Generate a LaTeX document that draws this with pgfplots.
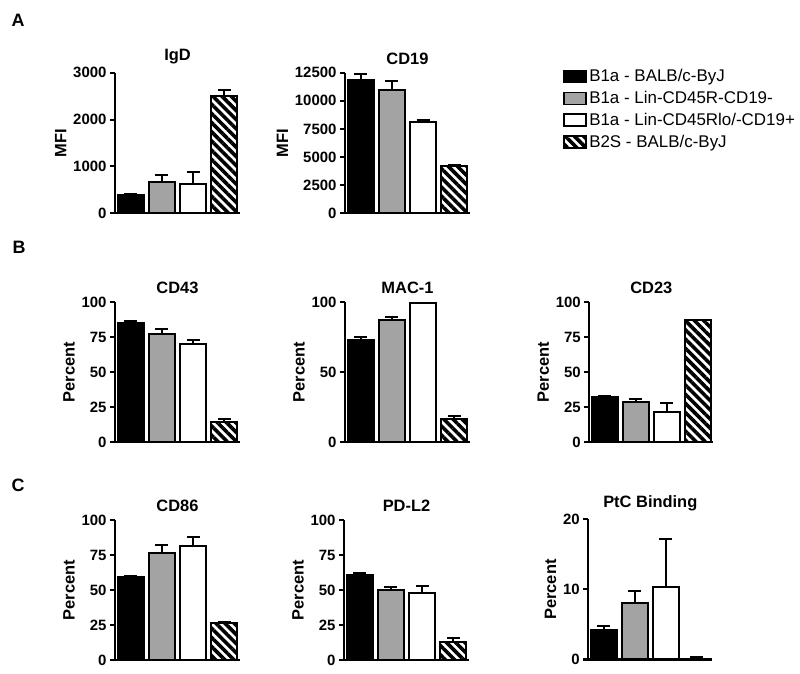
\documentclass[border=0pt]{standalone}
\usepackage{pgfplots}
\pgfplotsset{compat=1.18}
\usepackage{fontspec}
\setmainfont{Liberation Sans}
\usetikzlibrary{patterns.meta}
\definecolor{barGray}{RGB}{163,163,163}
\pgfplotsset{
  panel/.style={
    scale only axis, width=125bp, height=140bp,
    axis x line=bottom, axis y line=left,
    axis line style={-, line width=2bp},
    xmin=-0.5, xmax=3.5, xtick=\empty, ymin=0,
    tick align=outside, major tick length=5bp,
    ytick style={line width=2bp, black},
    tick label style={font=\bfseries\fontsize{15}{16}\selectfont},
    /pgf/number format/assume math mode=true,
    /pgf/number format/1000 sep={},
    scaled y ticks=false,
    title style={font=\bfseries\fontsize{16.5}{17}\selectfont, yshift=-1bp},
    ylabel style={font=\bfseries\fontsize{16.5}{17}\selectfont},
    clip=false,
    every axis plot/.append style={
      ybar, bar width=26bp, bar shift=0pt, line width=2bp, draw=black,
      /pgfplots/error bars/y dir=plus, /pgfplots/error bars/y explicit,
      /pgfplots/error bars/error bar style={line width=2bp, black},
      /pgfplots/error bars/error mark options={rotate=90, mark size=6.5bp, line width=2bp, black}},
  },
  s1/.style={fill=black, draw=black},
  s2/.style={fill=barGray, draw=black},
  s3/.style={fill=white, draw=black},
  s4/.style={draw=black, pattern={Lines[angle=-45,distance=6.5bp,line width=3.6bp]}, pattern color=black},
}
\begin{document}
\begin{tikzpicture}
\path[use as bounding box] (0,0) rectangle (800bp,674bp);
\node[font=\bfseries\fontsize{18}{18}\selectfont] at (18bp,654bp) {A};
\node[font=\bfseries\fontsize{18}{18}\selectfont] at (19bp,427bp) {B};
\node[font=\bfseries\fontsize{18}{18}\selectfont] at (18bp,189bp) {C};

% IgD
\begin{axis}[panel, at={(115bp,460.7bp)}, anchor=south west, width=125bp, height=140.6bp,
  ymax=3000, ytick={0,1000,2000,3000}, title={IgD}, ylabel={MFI}]
\addplot[s1] coordinates {(0,380) +- (0,25)};
\addplot[s2] coordinates {(1,675) +- (0,150)};
\addplot[s3] coordinates {(2,618) +- (0,256)};
\addplot[s4] coordinates {(3,2509) +- (0,120)};
\end{axis}

% CD19
\begin{axis}[panel, at={(345bp,460.7bp)}, anchor=south west, width=125bp, height=140.6bp,
  ymax=12500, ytick={0,2500,5000,7500,10000,12500}, title={CD19}, ylabel={MFI},
  legend style={at={(1.72,1.055)}, anchor=north west, draw=none, fill=none,
    font=\fontsize{17}{17.5}\selectfont, row sep=3bp,
    nodes={inner sep=2.5bp}},
  legend cell align=left,
  legend image code/.code={\draw[#1, line width=1.6bp] (0bp,-6bp) rectangle (22bp,6bp);}]
\addplot[s1] coordinates {(0,11848) +- (0,530)};
\addplot[s2] coordinates {(1,10960) +- (0,800)};
\addplot[s3] coordinates {(2,8087) +- (0,200)};
\addplot[s4] coordinates {(3,4206) +- (0,120)};
\legend{B1a - BALB/c-ByJ, B1a - Lin-CD45R-CD19-, B1a - Lin-CD45Rlo/-CD19+, B2S - BALB/c-ByJ}
\end{axis}

% CD43
\begin{axis}[panel, at={(115bp,232bp)}, anchor=south west,
  ymax=100, ytick={0,25,50,75,100}, title={CD43}, ylabel={Percent}]
\addplot[s1] coordinates {(0,85.2) +- (0,1.2)};
\addplot[s2] coordinates {(1,77.4) +- (0,3.6)};
\addplot[s3] coordinates {(2,70.2) +- (0,2.7)};
\addplot[s4] coordinates {(3,14.0) +- (0,2.7)};
\end{axis}

% MAC-1
\begin{axis}[panel, at={(345bp,232bp)}, anchor=south west,
  ymax=100, ytick={0,50,100}, title={MAC-1}, ylabel={Percent}]
\addplot[s1] coordinates {(0,72.6) +- (0,2.2)};
\addplot[s2] coordinates {(1,86.9) +- (0,2.1)};
\addplot[s3] coordinates {(2,99.5) +- (0,0)};
\addplot[s4] coordinates {(3,16.7) +- (0,1.6)};
\end{axis}

% CD23
\begin{axis}[panel, at={(589.3bp,232bp)}, anchor=south west, width=124bp,
  ymax=100, ytick={0,25,50,75,100}, title={CD23}, ylabel={Percent}]
\addplot[s1] coordinates {(0,31.9) +- (0,1.2)};
\addplot[s2] coordinates {(1,28.6) +- (0,2.4)};
\addplot[s3] coordinates {(2,21.4) +- (0,6.2)};
\addplot[s4] coordinates {(3,86.9) +- (0,0)};
\end{axis}

% CD86
\begin{axis}[panel, at={(115bp,14bp)}, anchor=south west,
  ymax=100, ytick={0,25,50,75,100}, title={CD86}, ylabel={Percent}]
\addplot[s1] coordinates {(0,59.5) +- (0,0.5)};
\addplot[s2] coordinates {(1,76.7) +- (0,5.2)};
\addplot[s3] coordinates {(2,81.7) +- (0,5.9)};
\addplot[s4] coordinates {(3,26.7) +- (0,0.7)};
\end{axis}

% PD-L2
\begin{axis}[panel, at={(344bp,14bp)}, anchor=south west,
  ymax=100, ytick={0,25,50,75,100}, title={PD-L2}, ylabel={Percent}]
\addplot[s1] coordinates {(0,60.7) +- (0,1.2)};
\addplot[s2] coordinates {(1,50.0) +- (0,2.4)};
\addplot[s3] coordinates {(2,48.1) +- (0,4.8)};
\addplot[s4] coordinates {(3,12.9) +- (0,2.6)};
\end{axis}

% PtC Binding
\begin{axis}[panel, at={(588.3bp,14.5bp)}, anchor=south west, width=124bp,
  ymax=20, ytick={0,10,20}, title={PtC Binding}, ylabel={Percent}]
\addplot[s1] coordinates {(0,4.19) +- (0,0.57)};
\addplot[s2] coordinates {(1,8.14) +- (0,1.62)};
\addplot[s3] coordinates {(2,10.38) +- (0,6.82)};
\addplot[s4] coordinates {(3,0.14) +- (0,0.15)};
\end{axis}
\end{tikzpicture}
\end{document}
